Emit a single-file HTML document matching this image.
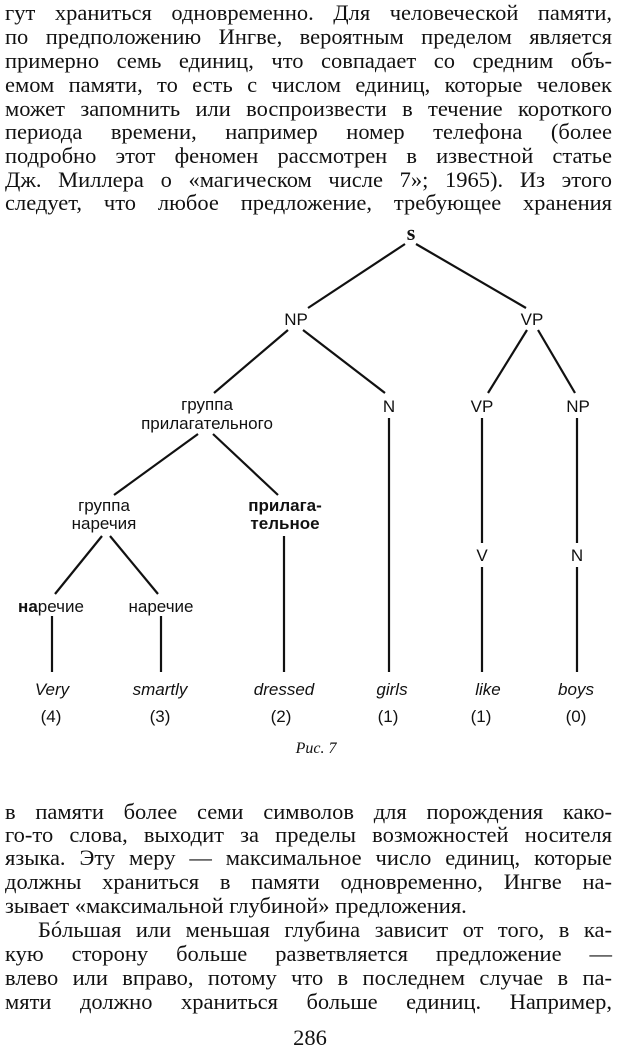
<!DOCTYPE html>
<html><head><meta charset="utf-8"><style>
body{margin:0;width:620px;height:1052px;background:#fff;overflow:hidden;position:relative;color:#111}
.t{position:absolute;left:5px;width:607px;font-family:"Liberation Serif",serif;font-size:22.5px;line-height:24px;text-align:justify;text-align-last:justify;white-space:nowrap}
.l{text-align-last:left}
svg{position:absolute;left:0;top:0}
svg text{font-family:"Liberation Sans",sans-serif;font-size:17px;fill:#111}
</style></head><body>
<div class="t" style="top:1px">гут храниться одновременно. Для человеческой памяти,</div>
<div class="t" style="top:25px">по предположению Ингве, вероятным пределом является</div>
<div class="t" style="top:49px">примерно семь единиц, что совпадает со средним объ-</div>
<div class="t" style="top:73px">емом памяти, то есть с числом единиц, которые человек</div>
<div class="t" style="top:97px">может запомнить или воспроизвести в течение короткого</div>
<div class="t" style="top:120px">периода времени, например номер телефона (более</div>
<div class="t" style="top:144px">подробно этот феномен рассмотрен в известной статье</div>
<div class="t" style="top:168px">Дж. Миллера о «магическом числе 7»; 1965). Из этого</div>
<div class="t" style="top:191px">следует, что любое предложение, требующее хранения</div>

<svg width="620" height="780" viewBox="0 0 620 780">
<g stroke="#111" stroke-width="2.2" fill="none">
<line x1="405" y1="244" x2="308" y2="308"/>
<line x1="416" y1="244" x2="526" y2="308"/>
<line x1="288" y1="330" x2="214" y2="393"/>
<line x1="303" y1="330" x2="385" y2="393"/>
<line x1="527" y1="330" x2="488" y2="393"/>
<line x1="538" y1="330" x2="575" y2="393"/>
<line x1="198" y1="434" x2="114" y2="495"/>
<line x1="213" y1="434" x2="278" y2="495"/>
<line x1="102" y1="536" x2="55" y2="594"/>
<line x1="110" y1="536" x2="158" y2="594"/>
<line x1="52" y1="616" x2="52" y2="672"/>
<line x1="161" y1="616" x2="161" y2="672"/>
<line x1="284" y1="536" x2="284" y2="672"/>
<line x1="389" y1="418" x2="389" y2="672"/>
<line x1="482" y1="418" x2="482" y2="543"/>
<line x1="482" y1="567" x2="482" y2="672"/>
<line x1="577" y1="418" x2="577" y2="543"/>
<line x1="577" y1="567" x2="577" y2="672"/>
</g>
<g text-anchor="middle">
<text x="411" y="240" style="font-family:'Liberation Serif',serif;font-weight:bold;font-size:22px">s</text>
<text x="296" y="325" font-size="18">NP</text>
<text x="532" y="325" font-size="18">VP</text>
<text x="207" y="410">группа</text>
<text x="207" y="429">прилагательного</text>
<text x="389" y="412">N</text>
<text x="482" y="412">VP</text>
<text x="578" y="412">NP</text>
<text x="104" y="511">группа</text>
<text x="104" y="529">наречия</text>
<text x="285" y="511" font-weight="bold">прилага-</text>
<text x="285" y="529" font-weight="bold">тельное</text>
<text x="482" y="561">V</text>
<text x="577" y="561">N</text>
<text x="51" y="612"><tspan font-weight="bold">на</tspan>речие</text>
<text x="161" y="612">наречие</text>
<g font-style="italic" font-size="18">
<text x="52" y="695">Very</text>
<text x="160" y="695">smartly</text>
<text x="284" y="695">dressed</text>
<text x="392" y="695">girls</text>
<text x="488" y="695">like</text>
<text x="576" y="695">boys</text>
</g>
<text x="51" y="722" font-size="18">(4)</text>
<text x="160" y="722" font-size="18">(3)</text>
<text x="281" y="722" font-size="18">(2)</text>
<text x="388" y="722" font-size="18">(1)</text>
<text x="481" y="722" font-size="18">(1)</text>
<text x="576" y="722" font-size="18">(0)</text>
<text x="316" y="753" style="font-family:'Liberation Serif',serif;font-style:italic;font-size:16px">Рис. 7</text>
</g>
</svg>

<div class="t" style="top:800px">в памяти более семи символов для порождения како-</div>
<div class="t" style="top:823px">го-то слова, выходит за пределы возможностей носителя</div>
<div class="t" style="top:846px">языка. Эту меру — максимальное число единиц, которые</div>
<div class="t" style="top:870px">должны храниться в памяти одновременно, Ингве на-</div>
<div class="t l" style="top:894px">зывает «максимальной глубиной» предложения.</div>
<div class="t" style="top:918px;left:38px;width:574px">Бóльшая или меньшая глубина зависит от того, в ка-</div>
<div class="t" style="top:942px">кую сторону больше разветвляется предложение —</div>
<div class="t" style="top:966px">влево или вправо, потому что в последнем случае в па-</div>
<div class="t" style="top:990px">мяти должно храниться больше единиц. Например,</div>
<div class="t l" style="top:1026px;left:0;width:620px;text-align:center;text-align-last:center">286</div>
</body></html>
